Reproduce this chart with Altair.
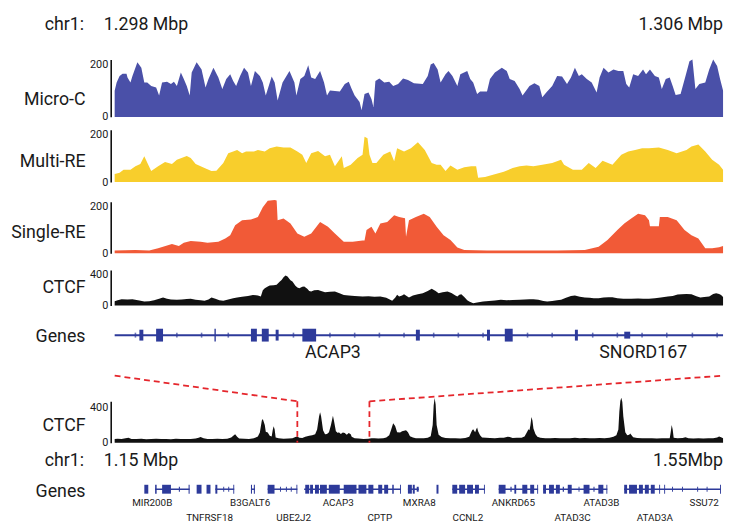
import altair as alt
import pandas as pd

FONT = "Roboto"
W = 616
N_BINS = 616

# genomic windows (kb)
TOP_START, TOP_END = 1298.0, 1306.0
BOT_START, BOT_END = 1150.0, 1550.0
TOP_BIN = (TOP_END - TOP_START) / N_BINS
BOT_BIN = (BOT_END - BOT_START) / N_BINS

HEAD_TOP = ["chr1:", "1.298 Mbp", "1.306 Mbp"]
HEAD_BOT = ["chr1:", "1.15 Mbp", "1.55Mbp"]

# (bin, value) pairs
MICRO_C = [(0,100),(2,132),(5,157),(8,166),(12,166),(13,151),(16,132),(18,157),(23,210),(27,189),(30,132),(33,132),
    (37,119),(42,113),(45,82),(48,132),(53,135),(57,126),(60,135),(63,119),(67,170),(70,145),(73,119),(76,82),(78,170),
    (83,210),(88,182),(92,113),(95,145),(100,189),(105,151),(109,107),(113,145),(117,164),(120,138),(123,119),(127,157),
    (131,189),(135,170),(138,119),(142,176),(147,157),(150,132),(153,82),(159,155),(162,132),(165,63),(170,132),(177,176),
    (182,132),(184,82),(188,145),(192,157),(196,198),(199,151),(203,145),(208,176),(212,132),(215,82),(218,101),(228,97),
    (233,126),(237,135),(240,107),(243,82),(248,57),(250,25),(253,88),(257,94),(260,69),(262,38),(264,138),(268,147),
    (273,132),(278,135),(282,119),(287,126),(292,147),(297,142),(303,129),(312,126),(317,157),(320,201),(323,207),(327,182),
    (330,132),(335,164),(338,176),(342,157),(347,119),(350,164),(357,176),(360,145),(363,132),(367,88),(370,97),(377,97),
    (380,145),(385,170),(392,189),(397,176),(400,145),(405,138),(410,107),(413,82),(420,119),(425,129),(430,119),(433,75),
    (437,94),(443,119),(448,157),(453,155),(458,126),(462,151),(466,189),(470,157),(473,164),(478,145),(483,132),(488,94),
    (491,151),(495,189),(500,170),(505,182),(510,176),(515,176),(518,126),(521,113),(525,164),(530,157),(535,182),(538,164),
    (542,182),(547,157),(551,151),(554,107),(558,145),(562,151),(565,119),(568,84),(573,88),(578,157),(582,214),(585,220),
    (588,107),(592,126),(598,132),(602,182),(606,220),(610,195),(613,145),(616,101)]

MULTI_RE = [(0,34),(5,39),(9,52),(16,52),(21,66),(26,76),(30,108),(34,73),(37,46),(44,66),(51,84),(58,76),(63,94),(73,110),
    (77,101),(82,76),(91,59),(98,46),(103,48),(110,80),(115,121),(120,128),(124,135),(129,121),(133,128),(141,128),(145,135),
    (152,128),(157,142),(164,149),(171,145),(178,145),(185,128),(190,115),(194,80),(199,121),(206,131),(213,108),(218,115),
    (223,66),(230,108),(232,59),(239,73),(246,101),(251,115),(253,190),(256,184),(258,115),(261,80),(265,80),(272,115),
    (279,128),(283,87),(286,142),(293,128),(300,142),(307,167),(314,135),(321,80),(326,73),(330,73),(335,46),(340,70),
    (347,52),(354,62),(361,66),(366,66),(368,18),(375,21),(384,32),(394,43),(403,59),(410,66),(417,70),(424,66),(433,73),
    (443,80),(452,94),(455,73),(464,52),(473,52),(480,80),(487,59),(494,90),(504,73),(513,115),(520,128),(527,135),(534,142),
    (541,142),(551,145),(560,135),(569,121),(579,135),(584,149),(591,158),(598,128),(605,94),(612,73),(616,52)]

SINGLE_RE = [(0,11),(21,14),(35,11),(44,21),(58,39),(65,31),(70,45),(77,52),(87,49),(94,45),(105,49),(112,63),(117,77),
    (122,120),(129,141),(138,144),(145,155),(150,197),(155,225),(162,228),(164,226),(165,141),(171,148),(178,127),(185,84),
    (192,70),(199,84),(208,134),(216,113),(223,84),(232,49),(241,49),(251,54),(253,54),(255,99),(260,113),(264,84),(269,127),
    (276,134),(283,162),(288,155),(294,150),(295,70),(298,141),(305,155),(313,169),(319,155),(326,113),(333,77),(340,56),
    (347,24),(354,14),(377,11),(401,11),(424,11),(448,11),(476,14),(490,28),(499,56),(509,99),(516,127),(523,148),(530,169),
    (537,162),(541,141),(542,115),(551,115),(552,155),(560,155),(569,141),(577,99),(584,77),(591,63),(598,21),(605,21),
    (612,25),(616,31)]

CTCF_TOP = [(0,55),(3,70),(7,83),(13,80),(18,83),(25,65),(30,52),(35,55),(40,70),(45,90),(49,104),(53,90),(57,80),(63,74),
    (68,80),(73,85),(77,87),(82,75),(87,70),(91,61),(95,80),(98,104),(102,90),(106,70),(110,61),(115,80),(120,95),(124,104),
    (129,115),(135,125),(140,139),(145,130),(148,117),(150,200),(152,226),(155,250),(157,261),(161,265),(164,270),(167,310),
    (169,335),(171,370),(173,392),(175,380),(178,330),(180,313),(183,260),(185,235),(187,226),(190,245),(192,248),(195,220),
    (197,190),(199,183),(202,200),(206,204),(209,190),(213,174),(218,180),(223,183),(227,165),(232,139),(237,130),(243,125),
    (251,117),(257,122),(263,115),(269,117),(275,100),(279,75),(281,61),(284,100),(286,140),(288,117),(291,130),(293,148),
    (296,120),(298,104),(302,130),(307,148),(312,160),(317,190),(321,218),(325,190),(328,161),(332,175),(337,183),(341,165),
    (345,130),(347,117),(349,140),(351,148),(354,110),(357,70),(359,52),(363,30),(367,40),(373,52),(379,60),(385,65),(391,74),
    (397,70),(403,72),(410,74),(415,78),(420,83),(424,83),(429,75),(434,60),(438,52),(443,60),(448,70),(452,74),(457,100),
    (462,125),(466,131),(471,115),(476,104),(481,100),(485,96),(490,96),(495,105),(500,109),(504,109),(509,95),(515,90),
    (523,87),(530,92),(535,88),(541,87),(547,95),(553,105),(560,117),(565,125),(570,145),(574,148),(579,150),(584,148),
    (589,120),(593,104),(597,110),(602,117),(606,150),(609,161),(612,150),(614,139),(616,110)]

CTCF_BOTTOM = [(0,42),(3,46),(7,42),(11,50),(14,56),(17,44),(22,42),(27,45),(32,41),(37,43),(42,46),(47,42),(52,44),(57,41),
    (62,45),(67,42),(72,44),(77,42),(82,48),(85,56),(87,64),(90,52),(94,44),(99,42),(104,46),(109,43),(114,45),(118,60),
    (121,88),(122,96),(124,68),(126,48),(131,46),(136,44),(141,52),(145,70),(147,115),(149,250),(150,268),(152,200),(153,125),
    (155,115),(157,78),(159,70),(160,140),(161,186),(162,150),(163,60),(166,50),(171,46),(176,48),(180,52),(183,65),(185,72),
    (187,58),(190,55),(193,68),(197,80),(200,85),(203,95),(205,150),(207,300),(208,344),(209,300),(211,140),(213,95),(215,100),
    (217,120),(219,200),(221,304),(222,250),(224,130),(226,110),(227,120),(229,100),(231,115),(233,110),(235,92),(237,110),
    (239,95),(240,68),(243,52),(247,48),(252,44),(257,46),(260,52),(263,50),(267,48),(272,52),(275,60),(278,85),(280,150),
    (282,220),(284,190),(286,120),(289,115),(291,130),(293,135),(295,140),(297,120),(299,75),(302,60),(305,52),(309,50),
    (313,52),(317,56),(320,75),(322,200),(323,420),(324,504),(325,430),(326,200),(328,92),(331,65),(335,54),(340,50),(345,52),
    (350,48),(355,54),(359,68),(361,120),(362,140),(363,152),(365,120),(366,150),(367,172),(368,130),(370,85),(372,60),
    (376,56),(380,54),(385,52),(390,56),(394,56),(398,68),(400,64),(403,54),(407,56),(412,58),(415,72),(417,110),(419,152),
    (420,140),(421,200),(422,290),(423,250),(424,160),(426,100),(428,68),(431,56),(436,50),(441,52),(446,54),(451,50),(456,52),
    (461,50),(466,56),(471,52),(476,54),(481,52),(486,50),(491,54),(496,52),(501,56),(505,68),(508,85),(510,150),(511,350),
    (512,470),(513,508),(514,460),(515,300),(517,120),(519,85),(521,92),(522,106),(523,92),(525,62),(529,54),(534,52),(539,50),
    (544,52),(549,48),(554,52),(559,50),(562,52),(563,120),(564,200),(565,150),(566,56),(570,50),(575,54),(578,62),(581,52),
    (586,48),(591,50),(596,47),(601,52),(606,50),(610,60),(612,70),(614,62),(616,50)]

# zoom window drawn on the overview track (kb)
ZOOM_WINDOW = [1270.1, 1317.5]

# gene model, top window (kb)
TOP_GENE_SPANS = [(1298.0, 1306.0)]
TOP_EXONS = [(1298.325, 1298.377, "utr"), (1298.545, 1298.636, "cds"), (1299.312, 1299.330, "cds"),
    (1299.792, 1299.870, "cds"), (1299.935, 1300.026, "cds"), (1300.117, 1300.156, "utr"), (1300.468, 1300.649, "cds"),
    (1301.961, 1302.013, "utr"), (1302.896, 1302.935, "utr"), (1303.130, 1303.234, "cds"), (1304.052, 1304.091, "utr"),
    (1304.701, 1304.779, "small")]
TOP_STRAND = [1298.273, 1298.818, 1299.143, 1299.494, 1300.351, 1300.831, 1301.156, 1301.481, 1301.805, 1302.195,
    1302.519, 1302.844, 1303.429, 1303.753, 1304.286, 1304.610, 1304.935, 1305.260, 1305.597, 1305.922]
TOP_LABELS = ["ACAP3", "SNORD167"]
TOP_LABEL_POS = [1300.87, 1304.95]

# gene model, bottom window (kb)
BOT_GENE_SPANS = [(1176.6, 1199.3), (1216.2, 1228.6), (1239.6, 1242.2), (1250.6, 1270.1), (1274.6, 1338.2),
    (1342.8, 1349.9), (1372.0, 1393.4), (1402.5, 1428.4), (1431.7, 1473.9), (1485.0, 1548.6)]
BOT_EXONS = [(1169.5, 1172.1, "cds"), (1176.6, 1177.6, "cds"), (1181.2, 1187.0, "cds"), (1192.2, 1192.9, "small"),
    (1198.6, 1199.3, "cds"), (1203.9, 1207.1, "cds"), (1210.4, 1213.0, "cds"), (1216.2, 1217.5, "cds"),
    (1221.4, 1222.0, "small"), (1224.7, 1225.3, "small"), (1228.0, 1228.6, "cds"), (1239.6, 1240.3, "cds"),
    (1241.5, 1242.2, "cds"), (1250.6, 1255.1, "cds"), (1258.7, 1259.3, "small"), (1262.6, 1263.2, "small"),
    (1265.8, 1266.4, "small"), (1269.5, 1270.1, "cds"), (1275.3, 1277.9, "cds"), (1278.5, 1280.4, "cds"),
    (1281.7, 1284.3, "cds"), (1285.0, 1289.5, "cds"), (1290.8, 1298.0, "cds"), (1300.6, 1309.0, "cds"),
    (1310.3, 1315.5, "cds"), (1316.8, 1320.1, "cds"), (1323.3, 1325.9, "cds"), (1327.2, 1329.8, "cds"),
    (1332.5, 1333.5, "cds"), (1337.6, 1338.2, "cds"), (1342.8, 1345.4, "cds"), (1346.0, 1347.3, "cds"),
    (1348.6, 1349.9, "small"), (1361.6, 1362.9, "cds"), (1372.0, 1375.2, "cds"), (1376.5, 1380.4, "cds"),
    (1381.7, 1385.6, "cds"), (1386.9, 1389.5, "cds"), (1392.8, 1393.4, "cds"), (1402.5, 1407.0, "cds"),
    (1410.2, 1411.0, "small"), (1412.8, 1414.0, "cds"), (1418.0, 1421.3, "cds"), (1423.2, 1425.8, "cds"),
    (1427.8, 1428.4, "cds"), (1431.7, 1433.6, "cds"), (1435.6, 1438.8, "cds"), (1440.1, 1442.7, "cds"),
    (1444.6, 1445.4, "small"), (1447.9, 1450.5, "cds"), (1455.0, 1455.6, "small"), (1458.3, 1462.2, "cds"),
    (1464.8, 1465.5, "small"), (1468.0, 1471.3, "cds"), (1473.3, 1473.9, "cds"), (1485.0, 1486.9, "cds"),
    (1488.2, 1493.4, "cds"), (1494.7, 1497.3, "cds"), (1498.6, 1501.2, "cds"), (1502.5, 1505.1, "cds"),
    (1508.0, 1508.6, "cds"), (1511.3, 1511.9, "cds"), (1516.5, 1517.1, "small"), (1523.0, 1523.6, "small"),
    (1533.0, 1533.6, "small"), (1539.2, 1539.8, "small"), (1548.0, 1548.6, "cds")]
BOT_LABELS = ["MIR200B", "TNFRSF18", "B3GALT6", "UBE2J2", "ACAP3", "CPTP", "MXRA8", "CCNL2", "ANKRD65",
    "ATAD3C", "ATAD3B", "ATAD3A", "SSU72"]
BOT_LABEL_POS = [1174.7, 1212.4, 1239.1, 1267.7, 1297.0, 1324.3, 1350.3, 1382.2, 1412.1, 1451.1, 1470.0, 1505.1, 1537.6]
BOT_LABEL_ROW = [1, 2, 1, 2, 1, 2, 1, 2, 1, 2, 1, 2, 1]

# styles
C_MICRO = "#4A50A8"
C_MULTI = "#F8CE2C"
C_SINGLE = "#F15A37"
C_CTCF = "#111111"
C_GENE = "#2D3A9A"
C_RED = "#E5262C"
C_TEXT = "#1a1a1a"
TOP_HALF = {"cds": 6.5, "utr": 5.5, "small": 3.5}
BOT_HALF = {"cds": 4.5, "small": 2.5}


def xenc(field, dom):
    return alt.X(field, type="quantitative", scale=alt.Scale(domain=dom, nice=False, zero=False), axis=None)


def sig_axis(title, title_y, tick):
    return alt.Axis(title=title, values=[0, tick], titleY=title_y, titleX=-26, offset=4)


def blank_axis(title, title_y):
    return alt.Axis(title=title, domain=False, labels=False, ticks=False, titleY=title_y, titleX=-26, offset=4)


def signal(pairs, start, binsize, dom, color, title, dmax, tick, H, gap, title_y, interp):
    df = pd.DataFrame({"pos": [start + b * binsize for b, _ in pairs], "v": [v for _, v in pairs]})
    return alt.Chart(df).mark_area(color=color, interpolate=interp).encode(
        x=xenc("pos", dom),
        y=alt.Y("v:Q", scale=alt.Scale(domain=[0, dmax], range=[H, gap], nice=False),
                axis=sig_axis(title, title_y, tick)),
    )


def header(labels, dom, H):
    df = pd.DataFrame({"pos": [dom[0], dom[0], dom[1]], "t": labels, "k": ["chrom", "start", "end"]})
    base = alt.Chart(df)
    enc = dict(x=xenc("pos", dom), text="t:N")
    chrom = base.transform_filter(alt.datum.k == "chrom").mark_text(align="right", dx=-31, fontSize=18, color=C_TEXT).encode(**enc)
    st = base.transform_filter(alt.datum.k == "start").mark_text(align="left", dx=-11, fontSize=18, color=C_TEXT).encode(**enc)
    en = base.transform_filter(alt.datum.k == "end").mark_text(align="right", dx=0, fontSize=18, color=C_TEXT).encode(**enc)
    return alt.layer(chrom, st, en).properties(width=W, height=H)


def gene_panel(spans, exons, half, strand, labels, label_pos, label_lvl, dom, ydom, H, title_y, lw, label_size):
    ysc = alt.Scale(domain=ydom, range=[H, 0], nice=False, zero=False)
    yax = blank_axis("Genes", title_y)
    span_df = pd.DataFrame({"s": [a for a, _ in spans], "e": [b for _, b in spans], "lvl": 0})
    ex_df = pd.DataFrame({"s": [a for a, _, _ in exons], "e": [b for _, b, _ in exons],
                          "lo": [-half[k] for _, _, k in exons], "hi": [half[k] for _, _, k in exons]})
    lab_df = pd.DataFrame({"pos": label_pos, "t": labels, "lvl": label_lvl})
    layers = [
        alt.Chart(span_df).mark_rule(color=C_GENE, strokeWidth=lw).encode(
            x=xenc("s", dom), x2="e", y=alt.Y("lvl:Q", scale=ysc, axis=yax)),
        alt.Chart(ex_df).mark_rect(color=C_GENE).encode(
            x=xenc("s", dom), x2="e", y=alt.Y("lo:Q", scale=ysc, axis=yax), y2="hi"),
    ]
    if strand:
        st_df = pd.DataFrame({"pos": strand, "lvl": 0})
        layers.append(alt.Chart(st_df).mark_tick(orient="vertical", size=5, thickness=1.6, color=C_GENE).encode(
            x=xenc("pos", dom), y=alt.Y("lvl:Q", scale=ysc, axis=yax)))
    layers.append(alt.Chart(lab_df).mark_text(fontSize=label_size, baseline="middle", color=C_TEXT).encode(
        x=xenc("pos", dom), y=alt.Y("lvl:Q", scale=ysc, axis=yax), text="t:N"))
    return alt.layer(*layers).properties(width=W, height=H)


TOP_DOM = [TOP_START, TOP_END]
BOT_DOM = [BOT_START, BOT_END]

head1 = header(HEAD_TOP, TOP_DOM, 28)
micro = signal(MICRO_C, TOP_START, TOP_BIN, TOP_DOM, C_MICRO, "Micro-C", 220, 200, 79, 21, 61, "linear").properties(width=W, height=79)
multi = signal(MULTI_RE, TOP_START, TOP_BIN, TOP_DOM, C_MULTI, "Multi-RE", 220, 200, 66, 13, 45, "linear").properties(width=W, height=66)
single = signal(SINGLE_RE, TOP_START, TOP_BIN, TOP_DOM, C_SINGLE, "Single-RE", 220, 200, 72, 20, 51, "linear").properties(width=W, height=72)
ctcf = signal(CTCF_TOP, TOP_START, TOP_BIN, TOP_DOM, C_CTCF, "CTCF", 465, 400, 53, 17, 35, "linear").properties(width=W, height=53)
genes = gene_panel(TOP_GENE_SPANS, TOP_EXONS, TOP_HALF, TOP_STRAND, TOP_LABELS, TOP_LABEL_POS,
                   [-18] * len(TOP_LABELS), TOP_DOM, [-41, 30], 71, 31, 2, 18)

conn_df = pd.DataFrame({"side": ["l", "l", "r", "r"],
                        "pos": [BOT_START, ZOOM_WINDOW[0], ZOOM_WINDOW[1], BOT_END],
                        "lvl": [1, 0, 0, 1]})
conn = alt.Chart(conn_df).mark_line(color=C_RED, strokeDash=[6, 4], strokeWidth=1.8).encode(
    x=xenc("pos", BOT_DOM),
    y=alt.Y("lvl:Q", scale=alt.Scale(domain=[0, 1], range=[26, 0]), axis=None),
    detail="side:N",
).properties(width=W, height=26)

ctcf2_area = signal(CTCF_BOTTOM, BOT_START, BOT_BIN, BOT_DOM, C_CTCF, "CTCF", 467, 400, 42, 0, 25, "linear")
zoom_rules = alt.Chart(pd.DataFrame({"pos": ZOOM_WINDOW})).mark_rule(
    color=C_RED, strokeDash=[6, 4], strokeWidth=1.8).encode(x=xenc("pos", BOT_DOM))
ctcf2 = alt.layer(ctcf2_area, zoom_rules).properties(width=W, height=42)

head2 = header(HEAD_BOT, BOT_DOM, 36)
genes2 = gene_panel(BOT_GENE_SPANS, BOT_EXONS, BOT_HALF, [], BOT_LABELS, BOT_LABEL_POS,
                    [-14 if r == 1 else -29 for r in BOT_LABEL_ROW], BOT_DOM, [-33, 11], 44, 13, 1.5, 10)

chart = alt.vconcat(head1, micro, multi, single, ctcf, genes, conn, ctcf2, head2, genes2,
                    spacing=0, bounds="flush").properties(
    padding={"left": 2, "top": 0, "right": 0, "bottom": 0}
).configure(font=FONT).configure_view(stroke=None).configure_axis(
    grid=False, ticks=False, tickSize=0, labelFontSize=11, labelColor=C_TEXT, labelPadding=3,
    domainColor="#111111", domainWidth=1.6, titleFontSize=18, titleFontWeight="normal", titleColor=C_TEXT,
    titleAngle=0, titleAlign="right", titleBaseline="middle",
)

chart.save("out.html", embed_options={"renderer": "svg", "actions": False})
